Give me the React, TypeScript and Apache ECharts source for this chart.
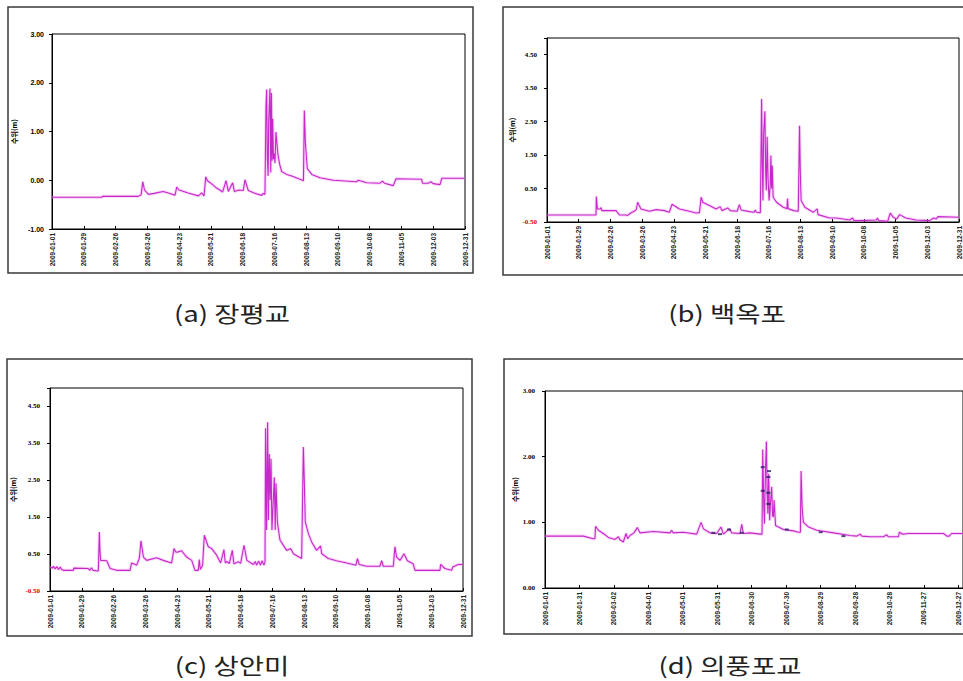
import React, { useEffect, useRef } from "react";
import * as echarts from "echarts";

// ---- data: day-of-year (0 = 2009-01-01) and water level (m) ----
const jangDays = [0, 43.8, 44.5, 76, 78.5, 80, 81.5, 85, 90, 98, 104, 108.4, 109.9, 112, 120, 129, 131.9, 134, 135.5, 137, 139.3, 142, 145, 148, 150.4, 153.4, 155.4, 159.2, 160.7, 165, 168.6, 170.1, 173, 178, 184.8, 186, 187.7, 188.6, 189.2, 189.8, 190.5, 191, 192.1, 192.8, 193.4, 194, 194.5, 195.2, 196, 196.5, 197.4, 198.2, 199, 200.6, 202.4, 206.8, 212, 218.6, 221.6, 222.4, 223.3, 225, 228.9, 236.2, 248, 268.5, 270, 277.4, 289, 291.4, 293, 300.8, 303.2, 325.8, 326.5, 331.7, 334, 336, 342, 343.5, 364];
const jangLevels = [-0.35, -0.35, -0.33, -0.33, -0.3, -0.03, -0.2, -0.29, -0.27, -0.23, -0.27, -0.31, -0.14, -0.2, -0.26, -0.32, -0.26, -0.32, 0.07, -0.01, -0.05, -0.1, -0.16, -0.2, -0.24, -0.01, -0.23, -0.05, -0.23, -0.2, -0.21, 0.01, -0.21, -0.26, -0.31, -0.27, -0.29, 1.5, 1.86, 0.45, 0.09, 1.2, 1.88, 0.16, 1.79, 0.4, 1.26, 0.43, 0.55, 0.35, 0.99, 0.77, 0.55, 0.33, 0.18, 0.12, 0.08, 0.02, -0.01, 1.43, 0.77, 0.24, 0.12, 0.05, 0.0, -0.03, 0.0, -0.05, -0.06, -0.02, -0.06, -0.11, 0.03, 0.02, -0.06, -0.06, -0.03, -0.07, -0.09, 0.04, 0.04];

const baekDays = [0, 43.3, 43.6, 44.5, 47, 47.7, 48.5, 61, 64, 70, 71, 74, 77, 79, 80, 83, 90.5, 96.4, 103.7, 108, 110.5, 117, 125.8, 131.7, 134.7, 136.2, 137.6, 143.5, 149.4, 153, 154.5, 159.7, 162, 168, 170, 171.5, 179, 183, 184, 185, 188.5, 189.6, 190.2, 190.8, 191.4, 192.5, 193.2, 193.8, 194.5, 195.3, 196.2, 197.2, 197.8, 198.4, 199, 199.8, 202.8, 208.7, 212, 212.5, 213, 218, 222, 223.1, 223.8, 224.5, 227.8, 235.2, 238.7, 239.5, 249.6, 255.8, 267.3, 270, 271, 276, 291, 292, 293, 301, 303.3, 306, 309, 311.5, 317, 326, 338, 341.6, 344, 345.5, 364];
const baekLevels = [-0.29, -0.29, 0.26, -0.11, -0.11, -0.07, -0.16, -0.16, -0.29, -0.29, -0.31, -0.23, -0.18, -0.12, 0.09, -0.11, -0.18, -0.13, -0.16, -0.21, 0.03, -0.11, -0.18, -0.23, -0.22, 0.24, 0.09, -0.01, -0.11, -0.04, -0.16, -0.08, -0.16, -0.18, 0.02, -0.14, -0.19, -0.21, -0.14, -0.21, -0.22, 3.18, 1.2, 0.14, 2.14, 2.81, 1.0, 0.44, 2.05, 0.8, 0.14, 0.6, 1.49, 0.5, 1.19, 0.24, 0.09, -0.06, -0.1, 0.2, -0.1, -0.16, -0.18, 2.38, 0.99, 0.14, -0.06, -0.21, -0.11, -0.28, -0.38, -0.38, -0.44, -0.38, -0.45, -0.46, -0.44, -0.38, -0.46, -0.48, -0.23, -0.36, -0.41, -0.28, -0.38, -0.44, -0.46, -0.38, -0.41, -0.34, -0.36];

const sanganDays = [0, 2, 3, 4.5, 6, 7.5, 9, 10.3, 11.8, 20.6, 21, 33.8, 35, 36.5, 38, 42.6, 43.5, 44, 44.7, 50, 53, 58.8, 70.5, 72, 76.4, 78.7, 80.2, 82.3, 85.2, 94, 99.9, 107.2, 109.3, 111, 113, 116, 120.4, 124.9, 127.8, 130.7, 131.6, 132.5, 134.5, 136, 139.5, 142.5, 146.9, 150.4, 153.3, 154.5, 156, 158, 160.7, 162, 166, 168, 171, 173.5, 179.2, 181, 182, 184, 185.5, 187, 188.5, 189.5, 190, 190.9, 191.8, 192.5, 193.3, 194, 194.8, 195.6, 196.8, 197.7, 198.5, 199.2, 200.4, 202.7, 208.6, 212.1, 214.5, 221.8, 223.3, 224.1, 225, 227.7, 230.6, 235, 238.5, 239.5, 245.3, 252.6, 261.5, 269.7, 270.9, 272.5, 279, 290.8, 292.3, 293.8, 302.6, 304, 305.5, 308.5, 312, 315, 320, 321.7, 343.7, 344.3, 348, 354, 355, 359.9, 364];
const sanganLevels = [0.15, 0.12, 0.17, 0.1, 0.16, 0.08, 0.15, 0.08, 0.06, 0.06, 0.12, 0.11, 0.06, 0.13, 0.06, 0.04, 1.1, 0.6, 0.33, 0.32, 0.11, 0.06, 0.06, 0.26, 0.2, 0.38, 0.86, 0.42, 0.33, 0.4, 0.33, 0.26, 0.65, 0.55, 0.56, 0.59, 0.42, 0.33, 0.06, 0.06, 0.35, 0.08, 0.2, 1.01, 0.7, 0.65, 0.47, 0.26, 0.62, 0.26, 0.3, 0.24, 0.6, 0.24, 0.29, 0.25, 0.74, 0.33, 0.22, 0.3, 0.2, 0.31, 0.2, 0.32, 0.2, 0.29, 3.91, 1.15, 4.07, 1.42, 3.21, 1.96, 3.08, 1.15, 1.96, 2.58, 1.15, 2.42, 1.37, 0.88, 0.6, 0.65, 0.51, 0.38, 3.4, 2.51, 1.37, 1.06, 0.83, 0.6, 0.72, 0.51, 0.38, 0.32, 0.26, 0.2, 0.38, 0.22, 0.17, 0.17, 0.32, 0.17, 0.17, 0.7, 0.42, 0.33, 0.51, 0.32, 0.24, 0.06, 0.06, 0.22, 0.11, 0.06, 0.15, 0.22, 0.22];

const uipungDays = [0, 33.4, 42, 43.5, 44, 46.5, 50.8, 55.2, 61, 63.9, 65.5, 68.2, 70.6, 72, 74, 77.5, 80.4, 82.7, 94.4, 108.9, 110.3, 111.5, 120.5, 132.1, 135.9, 138, 143.7, 149.5, 153.3, 155.3, 160.6, 162.6, 169.9, 171.3, 172.7, 178.6, 187.3, 189, 189.6, 190.6, 191.1, 192, 192.8, 193.5, 194.1, 194.8, 195.6, 196.4, 197.4, 198.2, 198.9, 199.5, 200.8, 203.3, 207.6, 216.3, 220.7, 222.4, 223, 223.9, 225, 229.4, 236.6, 251.2, 265.7, 271.5, 274.4, 276, 283, 294.7, 297.6, 299, 307.8, 308.6, 311.5, 316.4, 347, 350, 352, 354, 364];
const uipungLevels = [0.79, 0.79, 0.75, 0.75, 0.94, 0.88, 0.83, 0.77, 0.74, 0.78, 0.73, 0.7, 0.83, 0.75, 0.8, 0.84, 0.92, 0.84, 0.86, 0.84, 0.88, 0.84, 0.85, 0.82, 1.0, 0.9, 0.84, 0.83, 0.93, 0.82, 0.9, 0.84, 0.83, 0.97, 0.83, 0.84, 0.82, 0.82, 2.11, 1.2, 0.98, 1.8, 2.23, 1.4, 1.13, 1.74, 1.03, 1.3, 1.54, 1.1, 1.08, 1.34, 0.95, 0.93, 0.89, 0.87, 0.85, 0.85, 1.78, 1.23, 1.0, 0.93, 0.88, 0.84, 0.8, 0.79, 0.82, 0.79, 0.78, 0.78, 0.81, 0.78, 0.78, 0.85, 0.82, 0.83, 0.83, 0.79, 0.79, 0.83, 0.83];

const uipungMarkDays = [146.6, 152.4, 160.3, 171.3, 189.6, 189.6, 195.1, 194.5, 194.5, 194.5, 210.5, 240.1, 259.9];
const uipungMarkLevels = [0.84, 0.82, 0.89, 0.84, 1.84, 1.48, 1.78, 1.69, 1.45, 1.28, 0.89, 0.85, 0.79];

const captions = ["(a) 장평교", "(b) 백옥포", "(c) 상안미", "(d) 의풍포교"];
const yAxisTitle = "수위(m)";

const zip = (a: number[], b: number[]) => a.map((d, i) => [d, b[i]]);

const fmtDate = (d: number) => {
  const t = new Date(Date.UTC(2009, 0, 1) + Math.round(d) * 86400000);
  const mm = String(t.getUTCMonth() + 1).padStart(2, "0");
  const dd = String(t.getUTCDate()).padStart(2, "0");
  return `${t.getUTCFullYear()}-${mm}-${dd}`;
};

export default function App() {
  const ref = useRef<HTMLDivElement>(null);
  useEffect(() => {
    if (!ref.current) return;
    const chart = echarts.init(ref.current, undefined, { renderer: "svg" });
    const lineColor = "#c42ac8";
    const grids = [
      { left: 52, top: 34, width: 413, height: 195 },
      { left: 547, top: 38, width: 412, height: 184 },
      { left: 50, top: 388, width: 413, height: 203 },
      { left: 545, top: 391, width: 418, height: 197 },
    ];
    const steps = [28, 28, 28, 30];
    const xAxes = grids.map((_, i) => ({
      type: "value",
      gridIndex: i,
      min: 0,
      max: 364,
      interval: steps[i],
      splitLine: { show: false },
      axisLine: { onZero: false, lineStyle: { color: "#000", width: 1 } },
      axisTick: { show: true, inside: true, length: 3, lineStyle: { color: "#000" } },
      axisLabel: {
        rotate: 90,
        fontSize: 6.5,
        fontWeight: "bold",
        fontFamily: "Liberation Sans",
        color: "#222",
        margin: 4,
        formatter: (v: number) => (Math.abs(v % steps[i]) < 1e-6 ? fmtDate(v) : ""),
      },
    }));
    const yCfg = [
      { min: -1, max: 3, interval: 1, gap: 35 },
      { min: -0.5, max: 5, interval: 1, gap: 32 },
      { min: -0.5, max: 5, interval: 1, gap: 34 },
      { min: 0, max: 3, interval: 1, gap: 27 },
    ];
    const yAxes = yCfg.map((c, i) => ({
      type: "value",
      gridIndex: i,
      min: c.min,
      max: c.max,
      interval: c.interval,
      name: yAxisTitle,
      nameLocation: "middle",
      nameRotate: 90,
      nameGap: c.gap,
      nameTextStyle: { fontSize: 7, fontWeight: "bold", color: "#000", fontFamily: "Noto Sans CJK KR" },
      splitLine: { show: false },
      axisLine: { show: true, onZero: false, lineStyle: { color: "#000", width: 1 } },
      axisTick: { show: true, length: 3, lineStyle: { color: "#000" } },
      axisLabel: {
        fontSize: 7,
        fontWeight: "bold",
        fontFamily: i === 0 ? "Liberation Sans" : "Liberation Serif",
        margin: i === 0 ? 8 : 10,
        color: (v: any) => (i > 0 && i < 3 && parseFloat(v) < 0 ? "#e00000" : "#000"),
        formatter: (v: number) => (i > 0 && i < 3 && Math.abs(v - 5) < 1e-6 ? "" : v.toFixed(2)),
      },
    }));
    const lineData = [
      zip(jangDays, jangLevels),
      zip(baekDays, baekLevels),
      zip(sanganDays, sanganLevels),
      zip(uipungDays, uipungLevels),
    ];
    const series: any[] = [];
    lineData.forEach((d, i) => {
      series.push({
        type: "line",
        xAxisIndex: i,
        yAxisIndex: i,
        data: d,
        showSymbol: false,
        lineStyle: { color: "rgba(240,120,240,0.35)", width: 3 },
        silent: true,
        z: 1,
      });
      series.push({
        type: "line",
        xAxisIndex: i,
        yAxisIndex: i,
        data: d,
        showSymbol: false,
        lineStyle: { color: lineColor, width: 1.1 },
        z: 2,
      });
    });
    series.push({
      type: "scatter",
      xAxisIndex: 3,
      yAxisIndex: 3,
      data: zip(uipungMarkDays, uipungMarkLevels),
      symbol: "rect",
      symbolSize: [4, 2],
      itemStyle: { color: "#20205e" },
      z: 3,
    });
    const frames = [
      { x: 8, y: 7, w: 465, h: 266 },
      { x: 503, y: 7, w: 470, h: 268 },
      { x: 7, y: 359, w: 465, h: 277 },
      { x: 504, y: 359, w: 470, h: 275 },
    ];
    const capPos = [
      { x: 232, y: 312 },
      { x: 727, y: 312 },
      { x: 232, y: 664 },
      { x: 730, y: 664 },
    ];
    const graphic: any[] = [];
    frames.forEach((f) => {
      graphic.push({
        type: "rect",
        shape: { x: f.x, y: f.y, width: f.w, height: f.h },
        style: { fill: "none", stroke: "#3a3a3a", lineWidth: 1.5 },
        silent: true,
      });
    });
    captions.forEach((c, i) => {
      graphic.push({
        type: "text",
        x: capPos[i].x,
        y: capPos[i].y,
        scaleX: 1.25,
        style: {
          text: c,
          fontSize: 22,
          fontFamily: "Noto Sans CJK KR",
          fill: "#222",
          textAlign: "center",
          textVerticalAlign: "middle",
        },
      });
    });
    chart.setOption({
      animation: false,
      backgroundColor: "#fff",
      grid: grids.map((g) => ({ ...g, show: true, borderColor: "#000", borderWidth: 1, backgroundColor: "transparent" })),
      xAxis: xAxes,
      yAxis: yAxes,
      series,
      graphic,
    });
    return () => chart.dispose();
  }, []);
  return <div ref={ref} style={{ position: "absolute", left: 0, top: 0, width: 963, height: 681 }} />;
}
